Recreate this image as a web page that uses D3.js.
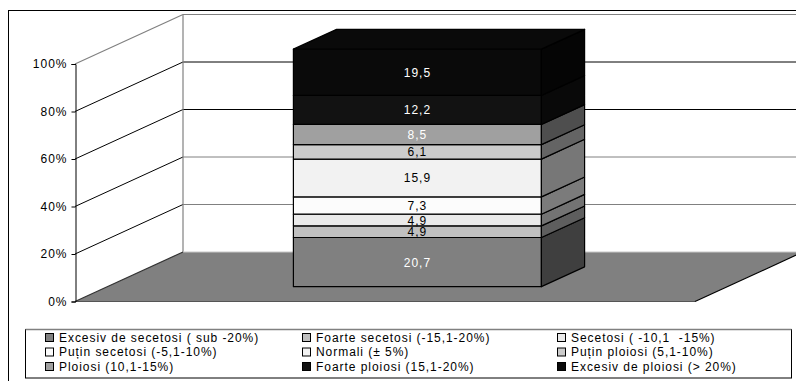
<!DOCTYPE html>
<html>
<head>
<meta charset="utf-8">
<script src="https://cdn.jsdelivr.net/npm/d3@7"></script>
<style>
  html, body { margin: 0; padding: 0; background: #fff; }
  svg { display: block; font-family: "Liberation Sans", Arial, sans-serif; }
  text { white-space: pre; }
</style>
</head>
<body>
<svg id="chart" width="796" height="381"></svg>
<script>
// Series, bottom to top of the stack (legend order)
const seriesNames = [
  "Excesiv de secetosi ( sub -20%)",
  "Foarte secetosi (-15,1-20%)",
  "Secetosi ( -10,1  -15%)",
  "Puțin secetosi (-5,1-10%)",
  "Normali (± 5%)",
  "Puțin ploiosi (5,1-10%)",
  "Ploiosi (10,1-15%)",
  "Foarte ploiosi (15,1-20%)",
  "Excesiv de ploiosi (> 20%)"
];
const seriesValues = [20.7, 4.9, 4.9, 7.3, 15.9, 6.1, 8.5, 12.2, 19.5];
const seriesColors = ["#808080", "#c0c0c0", "#eaeaea", "#fcfcfc", "#f2f2f2",
                      "#cccccc", "#a0a0a0", "#121212", "#0a0a0a"];
const categories = ["total"];
const yTicks = [0, 0.2, 0.4, 0.6, 0.8, 1];

const svg = d3.select("#chart");

// Front plane geometry and the oblique depth offset of the 3D box
const x0 = 75, x1 = 695;
const DX = 108, DY = -49.5;
const zFront = 0.3, zBack = 0.7;

const y = d3.scaleLinear().domain([0, 1]).range([301.5, 64]);
const x = d3.scaleBand().domain(categories).range([x0, x1])
  .paddingInner(0).paddingOuter(0.75);

const P = (px, v, z) => [px + z * DX, y(v) + z * DY];
const poly = pts => "M" + pts.map(p => p.join(",")).join("L") + "Z";

// Outer frame
svg.append("rect").attr("x", 8.5).attr("y", 10.5).attr("width", 820).attr("height", 420)
  .attr("fill", "#fff").attr("stroke", "#000").attr("stroke-width", 1);

// Back wall
svg.append("path").attr("d", poly([P(x0, 0, 1), P(x0, 1, 1), P(x1, 1, 1), P(x1, 0, 1)]))
  .attr("fill", "#fff").attr("stroke", "none");
// Side wall
svg.append("path").attr("d", poly([P(x0, 0, 0), P(x0, 1, 0), P(x0, 1, 1), P(x0, 0, 1)]))
  .attr("fill", "#fff").attr("stroke", "none");

// Gridlines on side and back walls
const inner = yTicks.filter(t => t > 0 && t < 1);
inner.forEach(t => {
  const a = P(x0, t, 0), b = P(x0, t, 1), c = P(x1, t, 1);
  svg.append("line").attr("x1", a[0]).attr("y1", a[1]).attr("x2", b[0]).attr("y2", b[1])
    .attr("stroke", "#000").attr("stroke-width", 1);
  svg.append("line").attr("x1", b[0]).attr("y1", b[1]).attr("x2", c[0]).attr("y2", c[1])
    .attr("stroke", t >= 0.6 ? "#000" : "#808080").attr("stroke-width", 1);
});

// Wall edges
const wallEdge = (p, q, col) => svg.append("line")
  .attr("x1", p[0]).attr("y1", p[1]).attr("x2", q[0]).attr("y2", q[1])
  .attr("stroke", col).attr("stroke-width", 1.2);
wallEdge(P(x0, 1, 0), P(x0, 1, 1), "#808080");
wallEdge(P(x0, 1, 1), P(x1, 1, 1), "#808080");
wallEdge(P(x0, 1, 1), P(x0, 0, 1), "#808080");

// Floor
svg.append("path").attr("d", poly([P(x0, 0, 0), P(x1, 0, 0), P(x1, 0, 1), P(x0, 0, 1)]))
  .attr("fill", "#808080").attr("stroke", "none");
wallEdge(P(x0, 0, 1), P(x1, 0, 1), "#c8c8c8");
wallEdge(P(x0, 0, 0), P(x1, 0, 0), "#555");
wallEdge(P(x1, 0, 0), P(x1, 0, 1), "#000");
wallEdge(P(x0, 0, 0), P(x0, 0, 1), "#333");

// Value axis
const axis = d3.axisLeft(y).tickValues(yTicks).tickFormat(d3.format(".0%")).tickSize(4).tickPadding(4);
const gAxis = svg.append("g").attr("transform", `translate(${x0 + 0.5},0)`).call(axis);
gAxis.select(".domain").attr("stroke", "#000");
gAxis.selectAll(".tick line").attr("stroke", "#000");
gAxis.selectAll("text").attr("fill", "#000").attr("font-size", 12)
  .attr("letter-spacing", 1).attr("font-family", "Liberation Sans, Arial, sans-serif");

// Stacked 3D column
const total = d3.sum(seriesValues);
let acc = 0;
const segs = seriesValues.map((v, i) => {
  const s = { i, v, lo: acc / total, hi: (acc + v) / total, color: seriesColors[i] };
  acc += v;
  return s;
});

const bx0 = x(categories[0]), bx1 = bx0 + x.bandwidth();
const g = svg.append("g");
segs.forEach(s => {
  // front face
  g.append("path")
    .attr("d", poly([P(bx0, s.lo, zFront), P(bx1, s.lo, zFront), P(bx1, s.hi, zFront), P(bx0, s.hi, zFront)]))
    .attr("fill", s.color).attr("stroke", "#000").attr("stroke-width", 1.2).attr("stroke-linejoin", "round");
  // right side face
  g.append("path")
    .attr("d", poly([P(bx1, s.lo, zFront), P(bx1, s.lo, zBack), P(bx1, s.hi, zBack), P(bx1, s.hi, zFront)]))
    .attr("fill", d3.color(s.color).darker(2).formatHex())
    .attr("stroke", "#000").attr("stroke-width", 1.2).attr("stroke-linejoin", "round");
});
// cap of the column
const capSeg = segs[segs.length - 1];
g.append("path")
  .attr("d", poly([P(bx0, 1, zFront), P(bx1, 1, zFront), P(bx1, 1, zBack), P(bx0, 1, zBack)]))
  .attr("fill", capSeg.color).attr("stroke", "#000").attr("stroke-width", 1.2).attr("stroke-linejoin", "round");

// value labels
const fmt = v => d3.format(".1f")(v).replace(".", ",");
segs.forEach(s => {
  const c = P((bx0 + bx1) / 2, (s.lo + s.hi) / 2, zFront);
  const lum = d3.hsl(s.color).l;
  g.append("text").attr("x", c[0]).attr("y", c[1] + 4.5)
    .attr("text-anchor", "middle").attr("font-size", 12).attr("letter-spacing", 1)
    .attr("fill", lum < 0.7 ? "#fff" : "#000")
    .text(fmt(s.v));
});

// Legend
const lg = svg.append("g");
lg.append("rect").attr("x", 25.5).attr("y", 329.5).attr("width", 766).attr("height", 48.5)
  .attr("fill", "#fff").attr("stroke", "#000").attr("stroke-width", 1);
lg.append("line").attr("x1", 25.5).attr("x2", 791.5).attr("y1", 329.5).attr("y2", 329.5)
  .attr("stroke", "#808080").attr("stroke-width", 1.5);
const colX = [45, 302, 557];
seriesNames.forEach((name, i) => {
  const col = i % 3, row = Math.floor(i / 3);
  const cy = 337.5 + row * 14.5;
  lg.append("rect").attr("x", colX[col] + 0.5).attr("y", cy - 4).attr("width", 8).attr("height", 8)
    .attr("fill", seriesColors[i]).attr("stroke", "#000").attr("stroke-width", 1);
  lg.append("text").attr("x", colX[col] + 14).attr("y", cy + 4.3)
    .attr("font-size", 12).attr("letter-spacing", 0.95).attr("fill", "#000")
    .text(name);
});
</script>
</body>
</html>
